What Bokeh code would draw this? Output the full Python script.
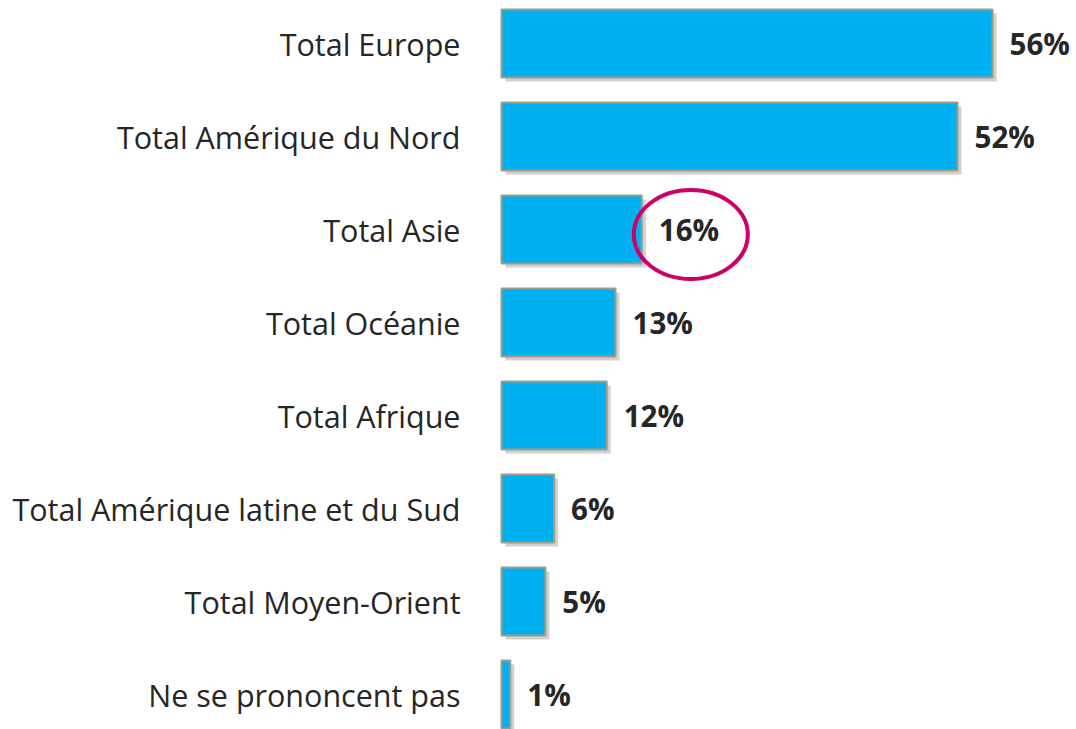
from bokeh.plotting import figure
from bokeh.models import ColumnDataSource, Range1d
from bokeh.core.properties import value
from bokeh.embed import file_html
from bokeh.resources import INLINE

categories = [
    "Total Europe",
    "Total Amérique du Nord",
    "Total Asie",
    "Total Océanie",
    "Total Afrique",
    "Total Amérique latine et du Sud",
    "Total Moyen-Orient",
    "Ne se prononcent pas",
]
values = [56, 52, 16, 13, 12, 6, 5, 1]
value_labels = ["56%", "52%", "16%", "13%", "12%", "6%", "5%", "1%"]
highlight_index = 2

W, H = 1076, 729
PX_PER_PCT = 8.77
ZERO_PX = 501          # frame x of the 0% baseline
ROW_PX = 93
FIRST_ROW_PX = 43      # frame y of the first bar centre

pos = list(range(len(categories)))
src = ColumnDataSource(dict(
    y=pos, v=values, cat=categories, lab=value_labels,
    zero=[0] * len(values),
))

x_start = -ZERO_PX / PX_PER_PCT
x_end = (W - ZERO_PX) / PX_PER_PCT
y_top = -FIRST_ROW_PX / ROW_PX
y_bottom = (H - FIRST_ROW_PX) / ROW_PX

p = figure(width=W, height=H, output_backend="svg", toolbar_location=None,
           x_range=Range1d(x_start, x_end), y_range=Range1d(y_bottom, y_top),
           min_border=0)
p.axis.visible = False
p.grid.visible = False
p.outline_line_color = None
p.background_fill_color = "white"

bar_h = 68 / ROW_PX
sx = 4 / PX_PER_PCT
sy = 4 / ROW_PX
shadow = ColumnDataSource(dict(
    y=[i + sy for i in pos],
    l=[sx] * len(values),
    r=[v + sx for v in values],
))
p.hbar(y="y", left="l", right="r", height=bar_h, source=shadow,
       fill_color="#9a9a9a", fill_alpha=0.45, line_color=None)
p.hbar(y="y", left="zero", right="v", height=bar_h, source=src,
       fill_color="#00B0F0", line_color="#A49A86", line_width=2)

p.text(x="zero", y="y", text="cat", source=src, x_offset=-41,
       text_align="right", text_baseline="middle",
       text_font=value("Open Sans"), text_font_size="30.5px",
       text_color="#262626")
p.text(x="v", y="y", text="lab", source=src, x_offset=17,
       text_align="left", text_baseline="middle",
       text_font=value("Open Sans"), text_font_size="29.5px",
       text_font_style="bold", text_color="#262626")

hx = values[highlight_index] + (49 / PX_PER_PCT)
p.ellipse(x=[hx], y=[highlight_index + 5 / ROW_PX], width=114, height=89,
          width_units="screen", height_units="screen",
          fill_color=None, line_color="#CC0066", line_width=4)

open("out.html", "w").write(file_html(p, INLINE))
